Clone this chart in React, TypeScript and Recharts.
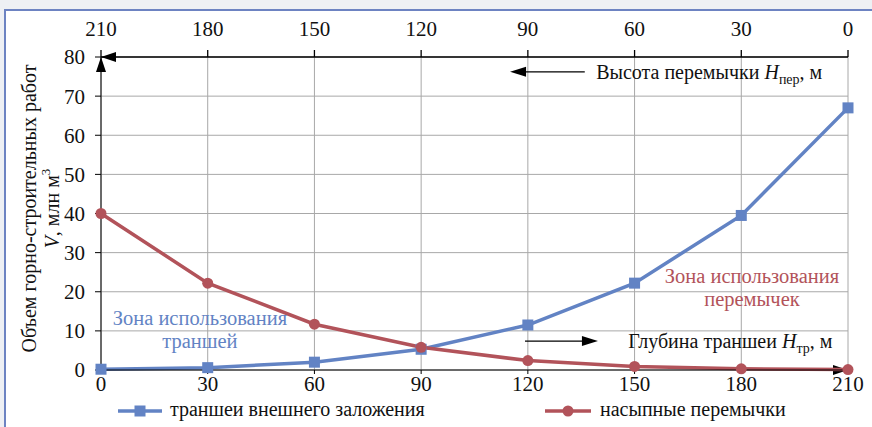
import { LineChart, Line, XAxis, YAxis, CartesianGrid, ReferenceLine, ReferenceDot, Legend } from 'recharts';

// depth of trench (bottom axis) and barrier height (top axis, reversed)
const depth = [0, 30, 60, 90, 120, 150, 180, 210];
const heightLabels = [210, 180, 150, 120, 90, 60, 30, 0];
const trenchVolume = [0.2, 0.6, 2.0, 5.3, 11.5, 22.2, 39.5, 67.0];
const bermVolume = [40.0, 22.2, 11.7, 5.8, 2.4, 0.9, 0.3, 0.1];
const yTicks = [0, 10, 20, 30, 40, 50, 60, 70, 80];

const seriesNames = ['траншеи внешнего заложения', 'насыпные перемычки'];

const chartData = depth.map((x, i) => ({ x, trench: trenchVolume[i], berm: bermVolume[i] }));

const FONT = "'Liberation Serif', 'DejaVu Serif', 'Times New Roman', serif";
const BLUE = '#6283c4';
const RED = '#b2535a';
const TEXT = '#111';

// line with an arrow head at (x2, y2)
const arrowShape = (head: number, half: number, withLine: boolean) => (p: any) => {
  const { x1, y1, x2, y2 } = p;
  const dx = x2 - x1;
  const dy = y2 - y1;
  const len = Math.hypot(dx, dy) || 1;
  const ux = dx / len;
  const uy = dy / len;
  const bx = x2 - ux * head;
  const by = y2 - uy * head;
  const pts = `${x2},${y2} ${bx - uy * half},${by + ux * half} ${bx + uy * half},${by - ux * half}`;
  return (
    <g>
      {withLine && <line x1={x1} y1={y1} x2={bx + ux * 2} y2={by + uy * 2} stroke="#000" strokeWidth={1.3} />}
      <polygon points={pts} fill="#000" />
    </g>
  );
};

const SquareDot = (props: any) => {
  const { cx, cy, index } = props;
  return <rect key={`sq-${index}`} x={cx - 5.5} y={cy - 5.5} width={11} height={11} fill={BLUE} />;
};

const YLabel = (props: any) => {
  const vb = props.viewBox || { x: 0, y: 57, width: 101, height: 313 };
  const cy = vb.y + vb.height / 2 - 5;
  const x1 = vb.x + 29;
  const x2 = vb.x + 52;
  return (
    <g style={{ fontFamily: FONT }} fontSize={20} fill={TEXT}>
      <text x={x1} y={cy} textAnchor="middle" dominantBaseline="central" transform={`rotate(-90, ${x1}, ${cy})`} style={{ fontFamily: FONT }}>
        Объем горно-строительных работ
      </text>
      <text x={x2} y={cy} textAnchor="middle" dominantBaseline="central" transform={`rotate(-90, ${x2}, ${cy})`} style={{ fontFamily: FONT }}>
        <tspan fontStyle="italic">V</tspan>, млн м<tspan fontSize={13} dy={-7}>3</tspan>
      </text>
    </g>
  );
};

const zoneLabel = (lines: string[], color: string) => (props: any) => {
  const { x, y } = props.viewBox;
  return (
    <text x={x} y={y - 12} textAnchor="middle" style={{ fontFamily: FONT }} fontSize={20.5} fill={color}>
      {lines.map((l, i) => (
        <tspan key={i} x={x} dy={i === 0 ? '0.35em' : 23}>{l}</tspan>
      ))}
    </text>
  );
};

const axisTitle = (main: string, sub: string) => (props: any) => {
  const { x, y } = props.viewBox;
  return (
    <text x={x} y={y} dy="0.35em" style={{ fontFamily: FONT }} fontSize={20} fill={TEXT}>
      {main}
      <tspan fontStyle="italic">H</tspan>
      <tspan fontSize={14} dy={5}>{sub}</tspan>
      <tspan dy={-5}>, м</tspan>
    </text>
  );
};

const renderLegend = () => (
  <div style={{ position: 'relative', width: 872, height: 30, fontFamily: FONT, fontSize: 20, color: TEXT }}>
    <svg style={{ position: 'absolute', left: 116, top: 7 }} width={48} height={14}>
      <line x1={2} y1={7} x2={46} y2={7} stroke={BLUE} strokeWidth={3.5} />
      <rect x={18.5} y={1.5} width={11} height={11} fill={BLUE} />
    </svg>
    <span style={{ position: 'absolute', left: 170, top: 1, whiteSpace: 'nowrap' }}>{seriesNames[0]}</span>
    <svg style={{ position: 'absolute', left: 543, top: 7 }} width={50} height={14}>
      <line x1={2} y1={7} x2={48} y2={7} stroke={RED} strokeWidth={3.5} />
      <circle cx={25} cy={7} r={5.5} fill={RED} />
    </svg>
    <span style={{ position: 'absolute', left: 600, top: 1, whiteSpace: 'nowrap' }}>{seriesNames[1]}</span>
  </div>
);

const tickStyle = { fontSize: 21, fill: TEXT, style: { fontFamily: FONT } };

export default function App() {
  return (
    <div style={{ position: 'absolute', left: 0, top: 0, width: 872, height: 427, background: '#eef0f4', overflow: 'hidden', fontFamily: FONT }}>
      <div style={{ position: 'absolute', left: 4, top: 9, width: 900, height: 440, background: '#fff', borderTop: '2px solid #6d83c2', borderLeft: '2px solid #6d83c2' }} />
      <div style={{ position: 'absolute', left: 0, top: 0 }}>
        <LineChart width={872} height={427} data={chartData} margin={{ top: 0, right: 24, left: 0, bottom: 0 }} style={{ fontFamily: FONT }}>
          <CartesianGrid stroke="#a8a8a8" strokeWidth={1} />
          <XAxis
            dataKey="x"
            type="number"
            domain={[0, 210]}
            ticks={depth}
            height={27}
            stroke="#000"
            tickSize={4}
            tickMargin={2}
            tick={tickStyle}
          />
          <XAxis
            xAxisId="top"
            orientation="top"
            dataKey="x"
            type="number"
            domain={[0, 210]}
            ticks={depth}
            height={57}
            stroke="#000"
            strokeWidth={1.3}
            tickSize={7}
            tickMargin={14}
            tickFormatter={(_v: number, i: number) => String(heightLabels[i])}
            tick={tickStyle}
          />
          <YAxis
            domain={[0, 80]}
            ticks={yTicks}
            width={101}
            stroke="#000"
            tickSize={6}
            tickMargin={10}
            tick={tickStyle}
            label={{ content: YLabel }}
          />
          <YAxis
            yAxisId="inner"
            orientation="left"
            mirror
            domain={[0, 80]}
            ticks={yTicks}
            axisLine={false}
            stroke="#000"
            tickSize={9}
            tickFormatter={() => ''}
          />
          <ReferenceLine segment={[{ x: 0, y: 70 }, { x: 0, y: 80 }]} ifOverflow="visible" shape={arrowShape(15, 5, false)} />
          <ReferenceLine segment={[{ x: 30, y: 80 }, { x: 0, y: 80 }]} ifOverflow="visible" shape={arrowShape(15, 5, false)} />
          <ReferenceLine segment={[{ x: 180, y: 0 }, { x: 210, y: 0 }]} ifOverflow="visible" shape={arrowShape(15, 5, false)} />
          <ReferenceLine segment={[{ x: 136, y: 76.2 }, { x: 115, y: 76.2 }]} ifOverflow="visible" shape={arrowShape(16, 5, true)} />
          <ReferenceLine segment={[{ x: 119.2, y: 7.4 }, { x: 139.7, y: 7.4 }]} ifOverflow="visible" shape={arrowShape(16, 5, true)} />
          <ReferenceDot x={139.2} y={76.2} r={0} fill="none" stroke="none" ifOverflow="visible" label={{ content: axisTitle('Высота перемычки ', 'пер') }} />
          <ReferenceDot x={148.2} y={7.4} r={0} fill="none" stroke="none" ifOverflow="visible" label={{ content: axisTitle('Глубина траншеи ', 'тр') }} />
          <ReferenceDot x={27.8} y={10.2} r={0} fill="none" stroke="none" ifOverflow="visible" label={{ content: zoneLabel(['Зона использования', 'траншей'], BLUE) }} />
          <ReferenceDot x={183} y={21} r={0} fill="none" stroke="none" ifOverflow="visible" label={{ content: zoneLabel(['Зона использования', 'перемычек'], RED) }} />
          <Line
            dataKey="trench"
            name={seriesNames[0]}
            type="linear"
            stroke={BLUE}
            strokeWidth={3.5}
            dot={SquareDot}
            isAnimationActive={false}
          />
          <Line
            dataKey="berm"
            name={seriesNames[1]}
            type="linear"
            stroke={RED}
            strokeWidth={3.5}
            dot={{ r: 5.5, fill: RED, stroke: RED, strokeWidth: 0 }}
            isAnimationActive={false}
          />
          <Legend verticalAlign="bottom" height={30} content={renderLegend} wrapperStyle={{ left: 0, bottom: 0, width: 872 }} />
        </LineChart>
      </div>
    </div>
  );
}
